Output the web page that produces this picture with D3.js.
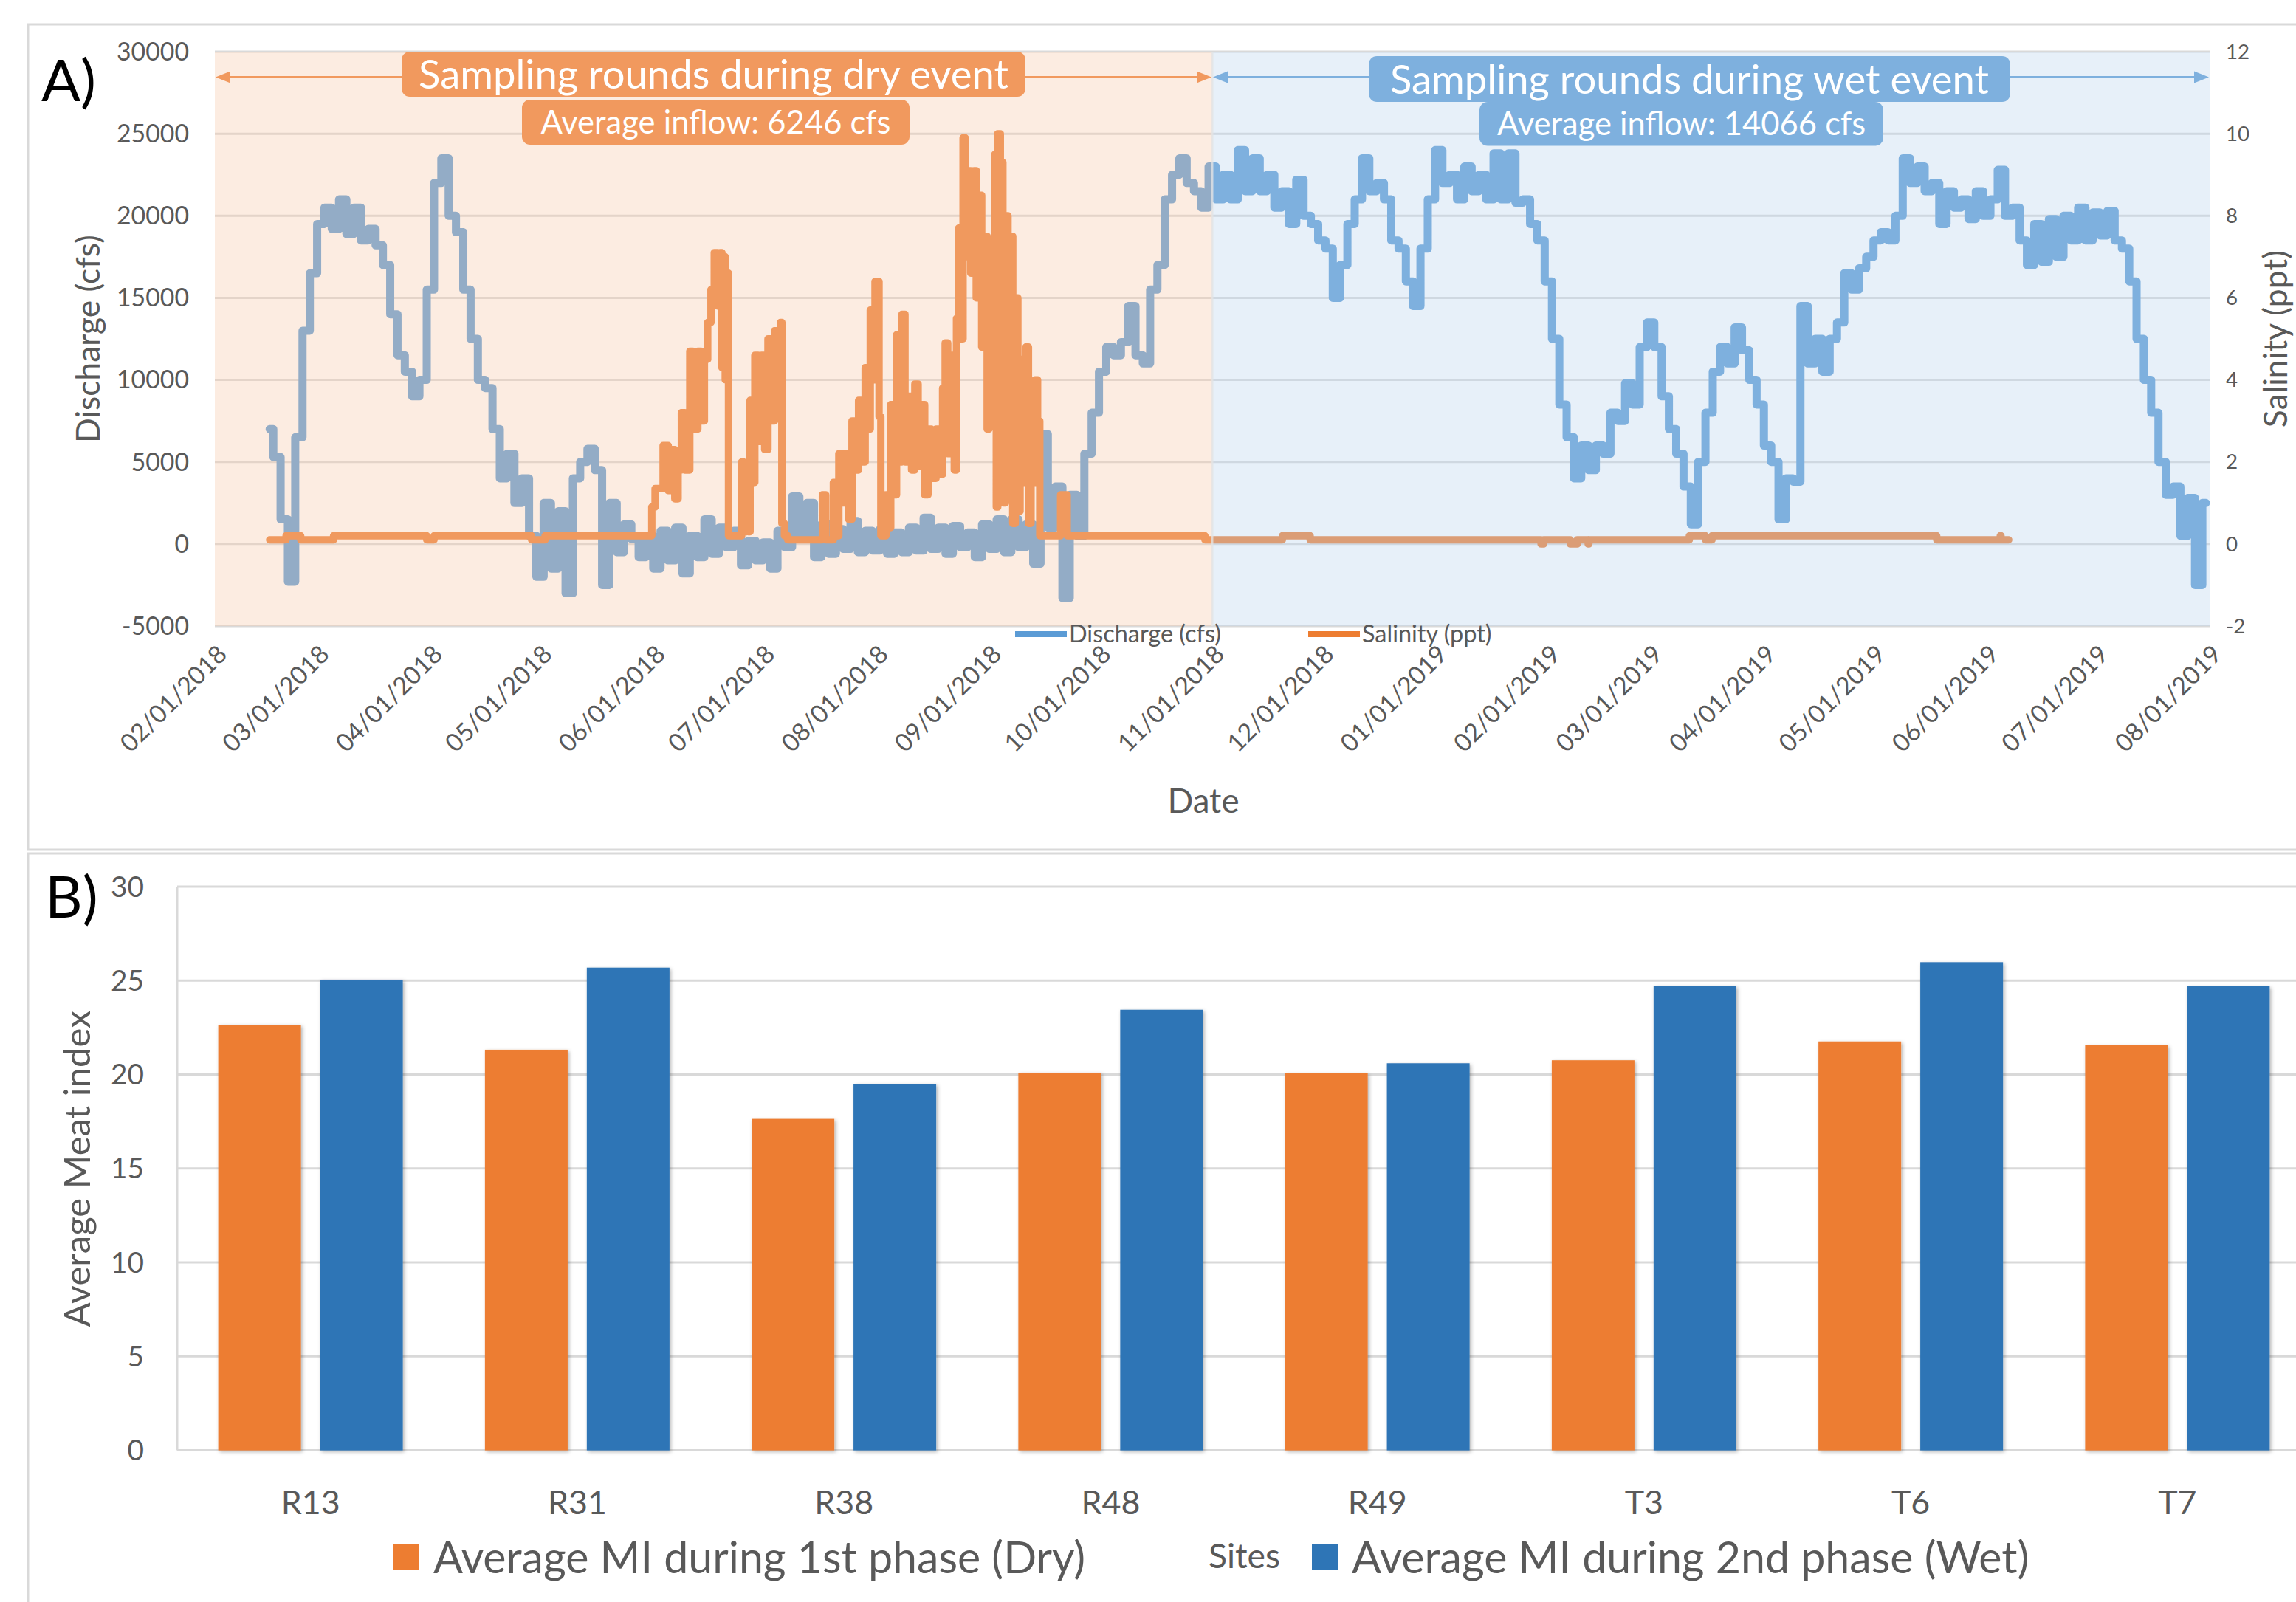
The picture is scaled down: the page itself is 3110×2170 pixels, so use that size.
<!DOCTYPE html>
<html><head><meta charset="utf-8">
<script src="https://cdn.jsdelivr.net/npm/d3@7"></script>
<style>
html,body{margin:0;padding:0;background:#fff;}
svg{display:block;font-family:Lato,"Open Sans",sans-serif;}
</style></head><body>
<svg id="chart" width="3110" height="2170"></svg>
<script>
// ---------------- DATA ----------------
const START_DATE = "2018-02-01";
const END_DATE = "2019-08-01";
const PHASE_BOUNDARY = "2018-11-01";
const dischargeStart = "2018-02-16";
const dischargeStepDays = 2;
// Discharge (cfs), one reading every 2 days from 2018-02-16
const dischargeCfs = [
 7000,5300,1500,-2300,6500,13000,16500,19500,20500,19200,21000,18900,20500,18500,19200,18200,17000,14000,11500,10500,
 9000,10000,15500,22000,23500,20000,19000,15500,12500,10000,9500,7000,4000,5500,2500,4000,500,-2000,2500,-1500,
 2000,-3000,4000,5000,5800,4500,-2500,2500,-500,1200,300,-800,500,-1500,800,-1000,1000,-1800,500,-800,
 1500,-600,1000,-200,800,-1300,200,-1000,100,-1500,800,-200,2900,400,2500,-800,1200,-600,900,-300,
 1400,-500,800,-400,900,-600,700,-500,1000,-400,1600,-300,1000,-600,1100,-200,700,-800,1200,-300,
 1500,-500,1500,-200,1200,-1200,6700,1000,3500,-3300,3000,500,5500,8000,10500,12000,11500,12300,14500,11500,
 11000,15500,17000,21000,22500,23500,22000,21500,20500,23000,21000,22500,21000,24000,21500,23500,21500,22500,20500,21500,
 19500,22200,20000,19500,18500,18000,15000,17000,19500,21000,23500,21500,22000,21000,18500,18000,16000,14500,18000,21000,
 24000,22000,22500,21000,23000,21500,22500,21000,23800,21000,23800,20800,21000,19500,18500,16000,12500,8500,6500,4000,
 6000,4500,6000,5500,8000,7500,9800,8500,12000,13500,12000,9000,7000,5500,3500,1200,5000,8000,10500,12000,
 11000,13200,11800,10000,8500,6000,5000,1500,4000,3800,14500,11000,12500,10500,12500,13500,16500,15500,16800,17500,
 18500,19000,18500,20000,23500,22000,23000,21500,22000,19500,21500,20500,21000,19800,21500,20000,21000,22800,20000,20500,
 18500,17000,19500,17200,19800,17500,20000,18500,20500,18500,20200,18800,20300,18500,18000,16000,12500,10000,8000,5000,
 3000,3500,500,2800,-2500,2500
];
// Salinity (ppt): [days since START_DATE, value]
const salinityPoints = [
 [15,0.1],[19.4,0.1],[19.5,0.2],[23.4,0.2],[23.5,0.1],[32.4,0.1],[32.5,0.2],[57.7,0.2],[58,0.1],[59.8,0.1],[60,0.2],
 [86.5,0.2],[86.7,0.1],[90.2,0.1],[90.4,0.2],[119.1,0.2],[119.6,0.9],[120.5,1.35],[122.7,2.4],[124.1,1.3],[125,2.3],
 [125.9,1.1],[126.8,1.8],[127.7,3.2],[128.6,1.8],[130,4.7],[130.8,2.8],[132.2,4.7],[133.1,3.0],[134,4.5],[134.9,5.4],
 [135.8,6.2],[136.7,7.1],[137.6,5.8],[138.3,7.1],[138.8,4.3],[139.2,7.0],[139.7,4.0],[140.1,6.6],[140.6,0.2],[143.7,0.2],
 [144.2,2.0],[144.7,0.3],[145.6,1.5],[146,0.3],[146.5,3.5],[146.9,1.5],[147.8,4.6],[148.7,2.5],[149.6,4.6],[150.5,2.3],
 [151.4,5.0],[152.3,3.0],[153.2,5.2],[154.1,3.5],[154.8,5.4],[155.2,0.5],[155.9,0.2],[156.8,0.1],[165.9,0.1],[166.3,1.2],
 [167.2,0.1],[168.6,0.1],[169.3,1.5],[169.9,0.2],[170.8,2.2],[171.7,1.0],[172.6,2.2],[173.5,0.6],[174.4,3.0],[175.3,1.8],
 [176.2,3.5],[177.1,2.0],[178,4.3],[178.9,2.8],[179.4,5.7],[180.3,4.0],[180.7,6.4],[181.4,6.4],[181.8,3.1],[182.3,0.2],
 [183,0.2],[183.7,1.2],[184.3,0.4],[185,3.4],[185.7,1.2],[186.6,5.1],[187.3,2.0],[188.1,5.6],[188.9,2.0],[189.8,3.6],
 [190.7,1.8],[191.6,3.9],[192.5,1.9],[193.4,3.4],[194.3,1.2],[195.2,2.8],[196.1,1.6],[197.4,2.8],[198.3,1.7],[199.2,3.8],
 [199.9,4.9],[200.6,2.2],[201.5,4.6],[202.4,1.8],[203,5.5],[203.6,7.7],[204.2,5.0],[204.8,9.9],[205.4,7.0],[206,9.1],
 [206.9,6.6],[207.8,9.1],[208.4,6.0],[209.2,8.5],[209.9,4.8],[210.5,7.5],[211.4,2.8],[211.9,7.1],[212.8,4.5],[213.5,9.5],
 [213.9,0.9],[214.3,10.0],[215,9.3],[215.7,1.0],[216.4,8.0],[217.1,1.5],[217.7,7.5],[218.4,0.5],[219.1,6.0],[219.8,0.8],
 [220.4,4.5],[221.1,1.5],[222,4.8],[222.7,0.5],[223.4,3.0],[224.1,1.5],[224.5,4.0],[225.2,3.0],[225.8,0.2],[230.8,0.2],
 [231.5,1.2],[232.6,1.2],[233.3,0.2],[270.5,0.2],[271,0.1],[292,0.1],[292.2,0.2],[299.6,0.2],[299.8,0.1],[362.8,0.1],
 [363,0.0],[363.5,0.0],[363.7,0.1],[370.9,0.1],[371,0.0],[372.7,0.0],[372.9,0.1],[375.7,0.1],[375.9,0.0],[376.1,0.1],
 [403.4,0.1],[403.6,0.2],[407.9,0.2],[408,0.1],[409.7,0.1],[409.8,0.2],[471.1,0.2],[471.3,0.1],[488.5,0.1],[488.7,0.2],
 [488.9,0.1],[491,0.1]
];
const dischargeTicks = [-5000,0,5000,10000,15000,20000,25000,30000];
const salinityTicks = [-2,0,2,4,6,8,10,12];
const dryTitle = "Sampling rounds during dry event";
const dryInflow = "Average inflow: 6246 cfs";
const wetTitle = "Sampling rounds during wet event";
const wetInflow = "Average inflow: 14066 cfs";

const sites = ["R13","R31","R38","R48","R49","T3","T6","T7"];
const dryMI = [22.65,21.32,17.64,20.10,20.07,20.76,21.76,21.56];
const wetMI = [25.05,25.69,19.50,23.45,20.60,24.72,25.98,24.70];
const miTicks = [0,5,10,15,20,25,30];
const seriesNames = ["Average MI during 1st phase (Dry)","Average MI during 2nd phase (Wet)"];

// ---------------- DRAW ----------------
const svg = d3.select("#chart");
const GREY = "#595959", GRID = "#D9D9D9";
const BLUE_LINE = "#5B9BD5", ORANGE_LINE = "#ED7D31";
const DRY_BOX = "#F1995E", WET_BOX = "#7EB0DE";
const BAR_OR = "#ED7D31", BAR_BL = "#2E75B6";

function sizeFor(str, targetW) {
  const t = svg.append("text").attr("font-size", 100).text(str);
  const w = t.node().getComputedTextLength();
  t.remove();
  return 100 * targetW / w;
}
const fsTickA = sizeFor("30000", 98);
const fsTitleA = sizeFor("Discharge (cfs)", 282);
const fsLegA = sizeFor("Discharge (cfs)", 206);
const fsBoxTitle = sizeFor(dryTitle, 799);
const fsBoxSub = sizeFor(dryInflow, 474);
const fsPanel = sizeFor("A)", 74);
const fsTickB = sizeFor("30", 45);
const fsCatB = sizeFor("R13", 80);
const fsTitleB = sizeFor("Average Meat index", 429);
const fsLegB = sizeFor(seriesNames[0], 883);
const fsSites = sizeFor("Sites", 97);

const defs = svg.append("defs");
const f = defs.append("filter").attr("id","shadow").attr("x","-10%").attr("y","-5%").attr("width","130%").attr("height","115%");
f.append("feDropShadow").attr("dx",2).attr("dy",2).attr("stdDeviation",2.5).attr("flood-color","#000").attr("flood-opacity",0.3);

// panel borders
svg.append("rect").attr("x",38).attr("y",33).attr("width",3200).attr("height",1118)
  .attr("fill","none").attr("stroke",GRID).attr("stroke-width",3);
svg.append("rect").attr("x",38).attr("y",1156).attr("width",3200).attr("height",1200)
  .attr("fill","none").attr("stroke",GRID).attr("stroke-width",3);

// ===== Panel A =====
const parse = d3.utcParse("%Y-%m-%d");
const A = {left:291, right:2993, top:70, bottom:848};
const t0 = parse(START_DATE);
const x = d3.scaleUtc().domain([t0, parse(END_DATE)]).range([A.left, A.right]);
const yL = d3.scaleLinear().domain([-5000,30000]).range([A.bottom, A.top]);
const yR = d3.scaleLinear().domain([-2,12]).range([A.bottom, A.top]);
const xB0 = x(parse(PHASE_BOUNDARY));

const gA = svg.append("g");
gA.selectAll("line.grid").data(dischargeTicks).join("line")
  .attr("x1",A.left).attr("x2",A.right).attr("y1",d=>yL(d)).attr("y2",d=>yL(d))
  .attr("stroke",GRID).attr("stroke-width",3);

const dStart = parse(dischargeStart);
const dischargeData = dischargeCfs.map((v,i)=>({t:d3.utcDay.offset(dStart, i*dischargeStepDays), v}));
const salinityData = salinityPoints.map(([d,v])=>({t:new Date(t0.getTime()+d*86400000), v}));

gA.append("path").datum(dischargeData)
  .attr("d", d3.line().curve(d3.curveStep).x(d=>x(d.t)).y(d=>yL(d.v)))
  .attr("fill","none").attr("stroke",BLUE_LINE).attr("stroke-width",11).attr("stroke-linejoin","round").attr("stroke-linecap","round");
gA.append("path").datum(salinityData)
  .attr("d", d3.line().curve(d3.curveStepAfter).x(d=>x(d.t)).y(d=>yR(d.v)))
  .attr("fill","none").attr("stroke",ORANGE_LINE).attr("stroke-width",10).attr("stroke-linejoin","round").attr("stroke-linecap","round");

// translucent phase shading on top
gA.append("rect").attr("x",A.left).attr("y",A.top).attr("width",xB0-A.left).attr("height",A.bottom-A.top)
  .attr("fill","#F8CBAD").attr("fill-opacity",0.366);
gA.append("rect").attr("x",xB0).attr("y",A.top).attr("width",A.right-xB0).attr("height",A.bottom-A.top)
  .attr("fill","#BDD7EE").attr("fill-opacity",0.366);
gA.append("line").attr("x1",xB0).attr("x2",xB0).attr("y1",A.top).attr("y2",A.bottom)
  .attr("stroke","#E4E4E4").attr("stroke-width",3).attr("stroke-opacity",0.8);

// left ticks
gA.selectAll("text.yl").data(dischargeTicks).join("text")
  .attr("x",256).attr("y",d=>yL(d)).attr("dy","0.35em").attr("text-anchor","end")
  .attr("font-size",fsTickA).attr("fill",GREY).text(d=>d);
// right ticks
gA.selectAll("text.yr").data(salinityTicks).join("text")
  .attr("x",3015).attr("y",d=>yR(d)).attr("dy","0.35em").attr("text-anchor","start")
  .attr("font-size",fsTickA*0.82).attr("fill",GREY).text(d=>d);
// x ticks
const months = d3.utcMonth.range(t0, d3.utcDay.offset(parse(END_DATE),1));
const fmt = d3.utcFormat("%m/%d/%Y");
gA.selectAll("text.xt").data(months).join("text")
  .attr("transform",d=>`translate(${x(d)+10},${880}) rotate(-45)`)
  .attr("dy","0.35em").attr("text-anchor","end")
  .attr("font-size",fsTickA).attr("fill",GREY).text(d=>fmt(d));
// axis titles
gA.append("text").attr("transform","translate(119,459) rotate(-90)").attr("text-anchor","middle")
  .attr("dy","0.35em").attr("font-size",fsTitleA).attr("fill",GREY).text("Discharge (cfs)");
gA.append("text").attr("transform","translate(3082,459) rotate(-90)").attr("text-anchor","middle")
  .attr("dy","0.35em").attr("font-size",fsTitleA).attr("fill",GREY).text("Salinity (ppt)");
gA.append("text").attr("x",1630).attr("y",1085).attr("text-anchor","middle")
  .attr("dy","0.35em").attr("font-size",fsTitleA*1.03).attr("fill",GREY).text("Date");
// legend
const legA = [{name:"Discharge (cfs)", c:BLUE_LINE, x0:1375},{name:"Salinity (ppt)", c:ORANGE_LINE, x0:1772}];
legA.forEach(l=>{
  gA.append("line").attr("x1",l.x0).attr("x2",l.x0+70).attr("y1",859).attr("y2",859)
    .attr("stroke",l.c).attr("stroke-width",8);
  gA.append("text").attr("x",l.x0+73).attr("y",859).attr("dy","0.35em")
    .attr("font-size",fsLegA).attr("fill",GREY).text(l.name);
});
// panel label
svg.append("text").attr("x",56).attr("y",137).attr("font-size",fsPanel).attr("fill","#000").text("A)");

// annotation boxes & arrows
function arrowHead(g, xTip, y, dir, color){
  const L=20, W=8;
  g.append("path").attr("d",`M${xTip},${y} L${xTip-dir*L},${y-W} L${xTip-dir*L},${y+W} Z`).attr("fill",color);
}
function box(g, x0, y0, x1, y1, color, text, fs){
  g.append("rect").attr("x",x0).attr("y",y0).attr("width",x1-x0).attr("height",y1-y0)
    .attr("rx",11).attr("fill",color);
  g.append("text").attr("x",(x0+x1)/2).attr("y",(y0+y1)/2).attr("dy","0.36em").attr("text-anchor","middle")
    .attr("font-size",fs).attr("fill","#fff").text(text);
}
const arrowY = 104.5;
gA.append("line").attr("x1",A.left+10).attr("x2",544).attr("y1",arrowY).attr("y2",arrowY).attr("stroke",DRY_BOX).attr("stroke-width",3);
arrowHead(gA, A.left+1, arrowY, -1, DRY_BOX);
gA.append("line").attr("x1",1389).attr("x2",xB0-10).attr("y1",arrowY).attr("y2",arrowY).attr("stroke",DRY_BOX).attr("stroke-width",3);
arrowHead(gA, xB0-1, arrowY, 1, DRY_BOX);
gA.append("line").attr("x1",xB0+10).attr("x2",1854).attr("y1",arrowY).attr("y2",arrowY).attr("stroke",WET_BOX).attr("stroke-width",3);
arrowHead(gA, xB0+1, arrowY, -1, WET_BOX);
gA.append("line").attr("x1",2723).attr("x2",A.right-10).attr("y1",arrowY).attr("y2",arrowY).attr("stroke",WET_BOX).attr("stroke-width",3);
arrowHead(gA, A.right-1, arrowY, 1, WET_BOX);
box(gA, 544, 70, 1389, 131, DRY_BOX, dryTitle, fsBoxTitle);
box(gA, 707, 135, 1232, 196, DRY_BOX, dryInflow, fsBoxSub);
box(gA, 1854, 76, 2723, 138, WET_BOX, wetTitle, fsBoxTitle);
box(gA, 2004, 138, 2551, 197.5, WET_BOX, wetInflow, fsBoxSub);

// ===== Panel B =====
const B = {left:240, right:3130, top:1201, bottom:1964.6};
const xS = d3.scaleBand().domain(sites).range([B.left,B.right]).paddingInner(0.308).paddingOuter(0.154);
const xSub = d3.scaleBand().domain([0,1]).range([0,xS.bandwidth()]).paddingInner(0.188);
const yB = d3.scaleLinear().domain([0,30]).range([B.bottom,B.top]);
const gB = svg.append("g");
gB.selectAll("line.g").data(miTicks).join("line")
  .attr("x1",B.left).attr("x2",3110).attr("y1",d=>yB(d)).attr("y2",d=>yB(d))
  .attr("stroke",GRID).attr("stroke-width",3);
gB.append("line").attr("x1",B.left).attr("x2",B.left).attr("y1",B.top).attr("y2",B.bottom)
  .attr("stroke",GRID).attr("stroke-width",3);
const barData = [];
sites.forEach((s,i)=>{ barData.push({s, k:0, v:dryMI[i]}); barData.push({s, k:1, v:wetMI[i]}); });
gB.selectAll("rect.bar").data(barData).join("rect")
  .attr("x",d=>xS(d.s)+xSub(d.k)).attr("width",xSub.bandwidth())
  .attr("y",d=>yB(d.v)).attr("height",d=>yB(0)-yB(d.v))
  .attr("fill",d=>d.k===0?BAR_OR:BAR_BL).attr("filter","url(#shadow)");
gB.selectAll("text.yt").data(miTicks).join("text")
  .attr("x",195).attr("y",d=>yB(d)).attr("dy","0.35em").attr("text-anchor","end")
  .attr("font-size",fsTickB).attr("fill",GREY).text(d=>d);
gB.selectAll("text.xt").data(sites).join("text")
  .attr("x",d=>xS(d)+xS.bandwidth()/2).attr("y",2035).attr("dy","0.35em").attr("text-anchor","middle")
  .attr("font-size",fsCatB).attr("fill",GREY).text(d=>d);
gB.append("text").attr("transform","translate(105,1583) rotate(-90)").attr("text-anchor","middle")
  .attr("dy","0.35em").attr("font-size",fsTitleB).attr("fill",GREY).text("Average Meat index");
// legend B
gB.append("rect").attr("x",533).attr("y",2092).attr("width",35).attr("height",35).attr("fill",BAR_OR);
gB.append("text").attr("x",587).attr("y",2110).attr("dy","0.35em").attr("font-size",fsLegB).attr("fill",GREY).text(seriesNames[0]);
gB.append("text").attr("x",1637).attr("y",2108).attr("dy","0.35em").attr("font-size",fsSites).attr("fill",GREY).text("Sites");
gB.append("rect").attr("x",1777).attr("y",2092).attr("width",35).attr("height",35).attr("fill",BAR_BL);
gB.append("text").attr("x",1831).attr("y",2110).attr("dy","0.35em").attr("font-size",fsLegB).attr("fill",GREY).text(seriesNames[1]);
svg.append("text").attr("x",61).attr("y",1243).attr("font-size",fsPanel).attr("fill","#000").text("B)");
</script>
</body></html>
